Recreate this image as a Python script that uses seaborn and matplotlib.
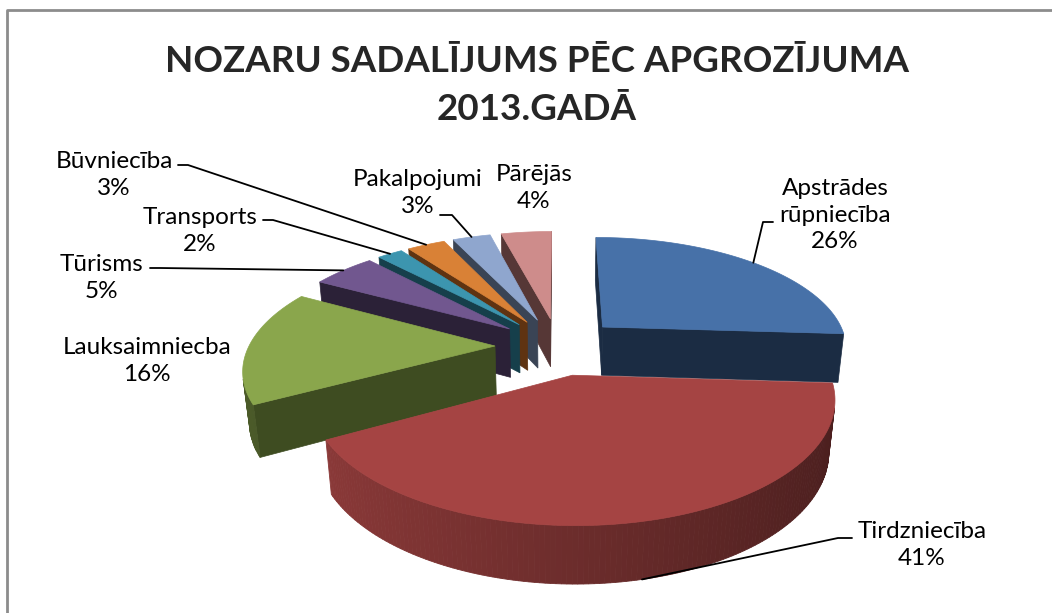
import numpy as np
import matplotlib
matplotlib.use("Agg")
import matplotlib.pyplot as plt
import seaborn as sns
from matplotlib.colors import to_rgb

# data
sectors = ["Apstrādes\nrūpniecība", "Tirdzniecība", "Lauksaimniecba", "Tūrisms",
           "Transports", "Būvniecība", "Pakalpojumi", "Pārējās"]
shares = [26, 41, 16, 5, 2, 3, 3, 4]
top_colors = ["#4771A8", "#A54443", "#8AA64C", "#71578F",
              "#3C95AF", "#D98136", "#8FA6CE", "#CE8C8B"]
side_colors = ["#1B2C43", "#4A1C1B", "#3E4C21", "#2B2137",
               "#163F4B", "#5F3311", "#3A4455", "#563736"]

sns.set_theme(style="white")
plt.rcParams["font.family"] = ["Lato", "DejaVu Sans"]

# 3d look: perspective camera
cx, cy, S = 558, 346, 246
D = 5.0
phi = np.radians(27)
E = 63 / S
h = 0.23


def proj(x, y, z):
    x, y, z = np.asarray(x, float), np.asarray(y, float), np.asarray(z, float)
    dist = D + y * np.cos(phi) - z * np.sin(phi)
    ys = y * np.sin(phi) + z * np.cos(phi)
    return cx + S * x * D / dist, cy - S * ys * D / dist


cam = np.array([0, -D * np.cos(phi), D * np.sin(phi)])


def visible(normal, point):
    return np.dot(normal, cam - np.asarray(point)) > 0


def shade(c, f):
    r, g, b = to_rgb(c)
    return (r * f, g * f, b * f)


fig = plt.figure(figsize=(10.52, 6.13), dpi=100)
ax = fig.add_axes([0, 0, 1, 1])
ax.set_xlim(0, 1052)
ax.set_ylim(613, 0)
ax.axis("off")

# outer border of the chart area
ax.plot([7, 7, 1060], [640, 10, 10], color="#8C8C8C", lw=2, solid_capstyle="butt")

edges = np.concatenate([[0], np.cumsum(shares)]) / sum(shares) * 360
slices = []
for i in range(len(shares)):
    a0, a1 = np.radians(edges[i]), np.radians(edges[i + 1])
    mid = (a0 + a1) / 2
    ex, ey = E * np.sin(mid), E * np.cos(mid)
    depth = np.linalg.norm(cam - np.array([ex + 0.6 * np.sin(mid), ey + 0.6 * np.cos(mid), 0]))
    slices.append((depth, i, a0, a1, mid, ex, ey))

anchors = {}
for depth, i, a0, a1, mid, ex, ey in sorted(slices, reverse=True):
    t = np.linspace(a0, a1, max(int(np.degrees(a1 - a0)), 4))
    ox, oy = ex + np.sin(t), ey + np.cos(t)
    # radial side walls
    for a, nrm in [(a0, (-np.cos(a0), np.sin(a0), 0)), (a1, (np.cos(a1), -np.sin(a1), 0))]:
        px, py = ex + np.sin(a), ey + np.cos(a)
        if visible(nrm, (ex, ey, -h / 2)):
            X, Y = proj([ex, px, px, ex], [ey, py, py, ey], [0, 0, -h, -h])
            ax.fill(X, Y, color=side_colors[i], lw=0.5, ec=side_colors[i])
    # outer curved wall
    for k in range(len(t) - 1):
        tm = (t[k] + t[k + 1]) / 2
        if not visible((np.sin(tm), np.cos(tm), 0), (ex + np.sin(tm), ey + np.cos(tm), -h / 2)):
            continue
        X, Y = proj([ox[k], ox[k + 1], ox[k + 1], ox[k]],
                    [oy[k], oy[k + 1], oy[k + 1], oy[k]], [0, 0, -h, -h])
        f = 0.86 - 0.41 * (np.sin(tm) + 1) / 2 if i == 1 else 0.55 - 0.2 * (np.sin(tm) + 1) / 2
        c = shade(top_colors[i], f)
        ax.fill(X, Y, color=c, lw=0.6, ec=c)
    # top face
    X, Y = proj(np.concatenate([[ex], ox]), np.concatenate([[ey], oy]), np.zeros(len(t) + 1))
    ax.fill(X, Y, color=top_colors[i], lw=0.5, ec=top_colors[i])
    anchors[i] = (proj(ex + np.sin(mid), ey + np.cos(mid), 0),
                  proj(ex + np.sin(mid), ey + np.cos(mid), -h))

# title
ax.text(537, 62, "NOZARU SADALĪJUMS PĒC APGROZĪJUMA", ha="center", va="center",
        fontsize=26.5, fontweight="bold")
ax.text(537, 109, "2013.GADĀ", ha="center", va="center", fontsize=26.5, fontweight="bold")

# data labels
label_pos = [(835, 215), (922, 545), (147, 361), (101, 278),
             (200, 231), (114, 175), (418, 193), (534, 188)]
elbows = {0: [(773, 222), (763, 222)], 1: [(852, 538), (838, 538)],
          3: [(150, 268), (160, 268)], 4: [(263, 220), (273, 220)],
          5: [(178, 165), (188, 165)], 6: [(440, 215), (452, 215)]}
for i, name in enumerate(sectors):
    lx, ly = label_pos[i]
    ax.text(lx, ly, f"{name}\n{shares[i]}%", ha="center", va="center",
            fontsize=17.5, linespacing=1.3, color="black")
    if i in elbows:
        top, bottom = anchors[i]
        end = bottom if i == 1 else top
        xs = [p[0] for p in elbows[i]] + [float(end[0])]
        ys = [p[1] for p in elbows[i]] + [float(end[1])]
        ax.plot(xs, ys, color="black", lw=1.3)

fig.savefig("out.png", dpi=100)
